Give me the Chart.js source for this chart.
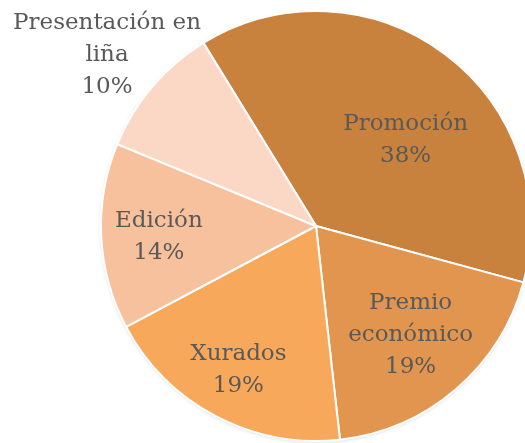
<!DOCTYPE html>
<html><head><meta charset="utf-8">
<script src="https://cdn.jsdelivr.net/npm/chart.js@4.4.0/dist/chart.umd.min.js"></script>
<style>
html,body{margin:0;padding:0;background:#fff;overflow:hidden;}
#wrap{width:532px;height:443px;position:relative;}
</style></head>
<body><div id="wrap"><canvas id="c"></canvas></div>
<script>
const categories = ["Promoción", "Premio económico", "Xurados", "Edición", "Presentación en liña"];
const values = [38, 19, 19, 14, 10];
const labelLines = [["Promoción","38%"],["Premio","económico","19%"],["Xurados","19%"],["Edición","14%"],["Presentación en","liña","10%"]];
const colors = ["#C8823D", "#E2954E", "#F7A85A", "#F8C19E", "#FBD8C6"];
// label block offsets relative to pie centre, in units of outer radius
const labelOffsets = [[0.417,-0.398],[0.44,0.505],[-0.361,0.671],[-0.731,0.051],[-0.972,-0.796]];

const shadowPlugin = {
  id: 'shadow',
  beforeDatasetsDraw(chart) {
    const arc = chart.getDatasetMeta(0).data[0];
    if (!arc) return;
    const ctx = chart.ctx;
    ctx.save();
    ctx.shadowColor = 'rgba(0,0,0,0.28)';
    ctx.shadowBlur = 4;
    ctx.shadowOffsetX = 0;
    ctx.shadowOffsetY = 1;
    ctx.fillStyle = '#ffffff';
    ctx.beginPath();
    ctx.arc(arc.x, arc.y, arc.outerRadius - 1, 0, Math.PI * 2);
    ctx.fill();
    ctx.restore();
  }
};

const labelPlugin = {
  id: 'lbl',
  afterDatasetsDraw(chart) {
    const ctx = chart.ctx;
    const meta = chart.getDatasetMeta(0);
    ctx.save();
    ctx.font = '23px "DejaVu Serif", serif';
    ctx.fillStyle = '#595959';
    ctx.textAlign = 'center';
    ctx.textBaseline = 'middle';
    const lh = 32;
    meta.data.forEach((arc, i) => {
      const cx = arc.x + labelOffsets[i][0] * arc.outerRadius;
      const cy = arc.y + labelOffsets[i][1] * arc.outerRadius;
      const lines = labelLines[i];
      const y0 = cy - (lines.length - 1) * lh / 2;
      lines.forEach((t, k) => ctx.fillText(t, cx, y0 + k * lh));
    });
    ctx.restore();
  }
};

new Chart(document.getElementById('c'), {
  type: 'pie',
  data: { labels: categories, datasets: [{ data: values, backgroundColor: colors, borderColor: '#ffffff', borderWidth: 2 }] },
  options: {
    responsive: true, maintainAspectRatio: false, animation: false,
    rotation: -31.6,
    layout: { padding: { left: 100, right: 0, top: 10, bottom: 1 } },
    plugins: { legend: { display: false }, tooltip: { enabled: false } }
  },
  plugins: [shadowPlugin, labelPlugin]
});
</script></body></html>
